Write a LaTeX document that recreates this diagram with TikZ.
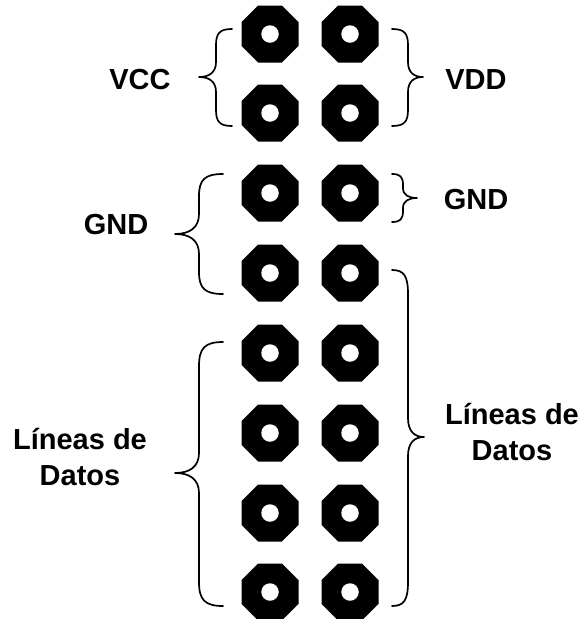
\documentclass[tikz,border=0pt]{standalone}
\usepackage{fontspec}
\setmainfont{Liberation Sans}
\usetikzlibrary{shapes.geometric}
\tikzset{
  pin/.style={regular polygon,regular polygon sides=8,fill=black,draw=none,inner sep=0pt,minimum size=61.7pt},
  hole/.style={circle,fill=white,draw=none,inner sep=0pt,minimum size=17.5pt},
  bracket/.style={draw=black,line width=1.7pt,line cap=round,line join=round,fill=none},
  lbl/.style={font=\fontsize{29}{36}\selectfont\bfseries,inner sep=0pt,align=center,text=black},
}
% end x, spine x, tip x, top y, mid y, bottom y, end radius, tip radius
\newcommand{\curlyb}[8]{%
  \draw[bracket] (#1,#4) .. controls ({#2+0.25*(#1-#2)},#4) and (#2,{#4+0.25*#7}) .. (#2,{#4+#7})
    -- (#2,{#5-#8}) .. controls (#2,{#5-0.3*#8}) and ({#2+0.4*(#3-#2)},#5) .. (#3,#5)
    .. controls ({#2+0.4*(#3-#2)},#5) and (#2,{#5+0.3*#8}) .. (#2,{#5+#8})
    -- (#2,{#6-#7}) .. controls (#2,{#6-0.25*#7}) and ({#2+0.25*(#1-#2)},#6) .. (#1,#6);}
\begin{document}
\begin{tikzpicture}[x=1pt,y=-1pt]
\useasboundingbox[fill=white] (0,0) rectangle (583,619);
\foreach \r/\y in {1/34,2/113,3/193,4/273,5/353,6/433,7/513,8/592}{
  \foreach \c/\x in {1/270,2/350}{
    \node[pin] (p\r-\c) at (\x,\y) {};
    \node[hole] (h\r-\c) at (\x,\y) {};
  }
}
\curlyb{232}{216}{199}{29}{77}{126}{16}{15}
\curlyb{392}{408}{423}{29}{77}{126}{16}{15}
\curlyb{223}{199}{175}{174}{234}{294}{22}{20}
\curlyb{392}{403}{417}{174}{198}{222}{11}{10}
\curlyb{223}{199}{175}{342}{473}{606}{24}{20}
\curlyb{392}{408}{424}{270}{437}{606}{24}{19}
\node[lbl,anchor=base] (vcc) at (140,89) {VCC};
\node[lbl,anchor=base] (vdd) at (476,89) {VDD};
\node[lbl,anchor=base] (gndl) at (116,234) {GND};
\node[lbl,anchor=base] (gndr) at (476,209) {GND};
\node[lbl,anchor=center] (datl) at (80,457) {Líneas de\\Datos};
\node[lbl,anchor=center] (datr) at (512,432) {Líneas de\\Datos};
\end{tikzpicture}
\end{document}
